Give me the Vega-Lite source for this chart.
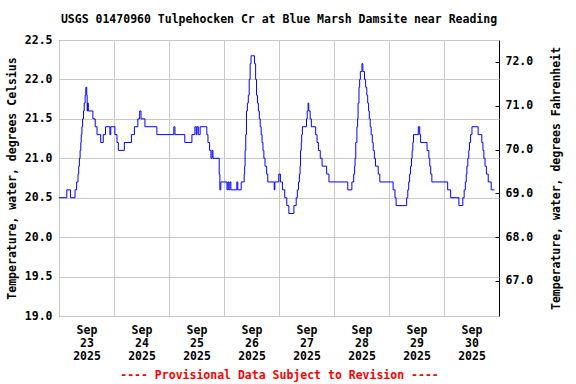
{
  "$schema": "https://vega.github.io/schema/vega-lite/v6.json",
  "width": 440,
  "height": 276,
  "autosize": "none",
  "padding": {"left": 59, "top": 40, "right": 77, "bottom": 68},
  "background": "white",
  "title": {
    "text": "USGS 01470960 Tulpehocken Cr at Blue Marsh Damsite near Reading",
    "font": "DejaVu Sans Mono",
    "fontSize": 11.5,
    "fontWeight": "bold",
    "color": "black",
    "anchor": "middle",
    "offset": 9
  },
  "config": {
    "view": {"stroke": "black", "strokeWidth": 1},
    "axis": {
      "labelFont": "DejaVu Sans Mono",
      "labelFontSize": 11.5,
      "labelFontWeight": "bold",
      "labelColor": "black",
      "titleFont": "DejaVu Sans Mono",
      "titleFontSize": 11.5,
      "titleFontWeight": "bold",
      "titleColor": "black",
      "gridColor": "#c8c8c8",
      "gridWidth": 1,
      "domain": false
    }
  },
  "data": {
    "values": [
      {"t": "2025-09-23T00:00", "c": 20.5},
      {"t": "2025-09-23T03:24", "c": 20.6},
      {"t": "2025-09-23T05:00", "c": 20.5},
      {"t": "2025-09-23T07:00", "c": 20.6},
      {"t": "2025-09-23T07:42", "c": 20.7},
      {"t": "2025-09-23T08:18", "c": 20.8},
      {"t": "2025-09-23T08:36", "c": 20.9},
      {"t": "2025-09-23T08:54", "c": 21.0},
      {"t": "2025-09-23T09:12", "c": 21.1},
      {"t": "2025-09-23T09:30", "c": 21.2},
      {"t": "2025-09-23T09:42", "c": 21.3},
      {"t": "2025-09-23T10:00", "c": 21.4},
      {"t": "2025-09-23T10:18", "c": 21.5},
      {"t": "2025-09-23T10:42", "c": 21.6},
      {"t": "2025-09-23T11:00", "c": 21.7},
      {"t": "2025-09-23T11:24", "c": 21.8},
      {"t": "2025-09-23T11:42", "c": 21.9},
      {"t": "2025-09-23T12:06", "c": 21.8},
      {"t": "2025-09-23T12:18", "c": 21.6},
      {"t": "2025-09-23T12:30", "c": 21.7},
      {"t": "2025-09-23T12:48", "c": 21.6},
      {"t": "2025-09-23T14:48", "c": 21.5},
      {"t": "2025-09-23T15:48", "c": 21.4},
      {"t": "2025-09-23T16:36", "c": 21.3},
      {"t": "2025-09-23T18:12", "c": 21.2},
      {"t": "2025-09-23T19:18", "c": 21.3},
      {"t": "2025-09-23T20:18", "c": 21.4},
      {"t": "2025-09-23T22:12", "c": 21.3},
      {"t": "2025-09-23T22:36", "c": 21.4},
      {"t": "2025-09-24T00:24", "c": 21.3},
      {"t": "2025-09-24T01:18", "c": 21.2},
      {"t": "2025-09-24T01:54", "c": 21.1},
      {"t": "2025-09-24T04:30", "c": 21.2},
      {"t": "2025-09-24T07:36", "c": 21.3},
      {"t": "2025-09-24T08:54", "c": 21.4},
      {"t": "2025-09-24T10:24", "c": 21.5},
      {"t": "2025-09-24T11:12", "c": 21.6},
      {"t": "2025-09-24T11:48", "c": 21.5},
      {"t": "2025-09-24T13:30", "c": 21.4},
      {"t": "2025-09-24T18:42", "c": 21.3},
      {"t": "2025-09-25T02:06", "c": 21.4},
      {"t": "2025-09-25T02:36", "c": 21.3},
      {"t": "2025-09-25T06:54", "c": 21.2},
      {"t": "2025-09-25T10:00", "c": 21.3},
      {"t": "2025-09-25T11:18", "c": 21.4},
      {"t": "2025-09-25T11:54", "c": 21.3},
      {"t": "2025-09-25T12:12", "c": 21.4},
      {"t": "2025-09-25T12:48", "c": 21.3},
      {"t": "2025-09-25T13:36", "c": 21.4},
      {"t": "2025-09-25T16:30", "c": 21.3},
      {"t": "2025-09-25T17:00", "c": 21.2},
      {"t": "2025-09-25T17:42", "c": 21.1},
      {"t": "2025-09-25T18:18", "c": 21.0},
      {"t": "2025-09-25T18:48", "c": 21.1},
      {"t": "2025-09-25T19:12", "c": 21.0},
      {"t": "2025-09-25T21:54", "c": 20.8},
      {"t": "2025-09-25T22:12", "c": 20.6},
      {"t": "2025-09-25T22:36", "c": 20.7},
      {"t": "2025-09-26T01:18", "c": 20.6},
      {"t": "2025-09-26T01:42", "c": 20.7},
      {"t": "2025-09-26T02:06", "c": 20.6},
      {"t": "2025-09-26T02:36", "c": 20.7},
      {"t": "2025-09-26T03:00", "c": 20.6},
      {"t": "2025-09-26T05:36", "c": 20.7},
      {"t": "2025-09-26T06:00", "c": 20.6},
      {"t": "2025-09-26T07:30", "c": 20.7},
      {"t": "2025-09-26T08:48", "c": 20.8},
      {"t": "2025-09-26T09:00", "c": 20.9},
      {"t": "2025-09-26T09:12", "c": 21.1},
      {"t": "2025-09-26T09:30", "c": 21.3},
      {"t": "2025-09-26T09:48", "c": 21.6},
      {"t": "2025-09-26T10:12", "c": 21.7},
      {"t": "2025-09-26T10:36", "c": 21.8},
      {"t": "2025-09-26T11:00", "c": 22.0},
      {"t": "2025-09-26T11:24", "c": 22.2},
      {"t": "2025-09-26T11:48", "c": 22.3},
      {"t": "2025-09-26T13:18", "c": 22.2},
      {"t": "2025-09-26T13:48", "c": 22.0},
      {"t": "2025-09-26T14:12", "c": 21.8},
      {"t": "2025-09-26T14:36", "c": 21.7},
      {"t": "2025-09-26T15:00", "c": 21.6},
      {"t": "2025-09-26T15:24", "c": 21.5},
      {"t": "2025-09-26T15:48", "c": 21.4},
      {"t": "2025-09-26T16:12", "c": 21.3},
      {"t": "2025-09-26T16:36", "c": 21.2},
      {"t": "2025-09-26T17:00", "c": 21.1},
      {"t": "2025-09-26T17:24", "c": 21.0},
      {"t": "2025-09-26T17:54", "c": 20.9},
      {"t": "2025-09-26T18:36", "c": 20.8},
      {"t": "2025-09-26T19:06", "c": 20.7},
      {"t": "2025-09-26T21:54", "c": 20.6},
      {"t": "2025-09-26T22:12", "c": 20.7},
      {"t": "2025-09-26T23:54", "c": 20.8},
      {"t": "2025-09-27T00:36", "c": 20.7},
      {"t": "2025-09-27T01:30", "c": 20.6},
      {"t": "2025-09-27T02:30", "c": 20.5},
      {"t": "2025-09-27T03:24", "c": 20.4},
      {"t": "2025-09-27T04:18", "c": 20.3},
      {"t": "2025-09-27T06:30", "c": 20.4},
      {"t": "2025-09-27T07:30", "c": 20.5},
      {"t": "2025-09-27T08:00", "c": 20.6},
      {"t": "2025-09-27T08:30", "c": 20.7},
      {"t": "2025-09-27T08:54", "c": 20.8},
      {"t": "2025-09-27T09:12", "c": 20.9},
      {"t": "2025-09-27T09:24", "c": 21.1},
      {"t": "2025-09-27T09:42", "c": 21.2},
      {"t": "2025-09-27T09:54", "c": 21.3},
      {"t": "2025-09-27T10:12", "c": 21.4},
      {"t": "2025-09-27T12:00", "c": 21.5},
      {"t": "2025-09-27T12:18", "c": 21.6},
      {"t": "2025-09-27T12:42", "c": 21.7},
      {"t": "2025-09-27T13:00", "c": 21.6},
      {"t": "2025-09-27T13:36", "c": 21.5},
      {"t": "2025-09-27T14:06", "c": 21.4},
      {"t": "2025-09-27T16:00", "c": 21.3},
      {"t": "2025-09-27T16:36", "c": 21.2},
      {"t": "2025-09-27T17:12", "c": 21.1},
      {"t": "2025-09-27T18:00", "c": 21.0},
      {"t": "2025-09-27T18:48", "c": 20.9},
      {"t": "2025-09-27T20:48", "c": 20.8},
      {"t": "2025-09-27T21:48", "c": 20.7},
      {"t": "2025-09-28T06:00", "c": 20.6},
      {"t": "2025-09-28T07:48", "c": 20.7},
      {"t": "2025-09-28T08:36", "c": 20.8},
      {"t": "2025-09-28T09:00", "c": 20.9},
      {"t": "2025-09-28T09:12", "c": 21.0},
      {"t": "2025-09-28T09:30", "c": 21.2},
      {"t": "2025-09-28T10:00", "c": 21.4},
      {"t": "2025-09-28T10:18", "c": 21.5},
      {"t": "2025-09-28T10:30", "c": 21.7},
      {"t": "2025-09-28T10:54", "c": 21.9},
      {"t": "2025-09-28T11:12", "c": 22.0},
      {"t": "2025-09-28T11:30", "c": 22.1},
      {"t": "2025-09-28T12:12", "c": 22.2},
      {"t": "2025-09-28T12:36", "c": 22.1},
      {"t": "2025-09-28T13:18", "c": 22.0},
      {"t": "2025-09-28T13:48", "c": 21.9},
      {"t": "2025-09-28T14:18", "c": 21.8},
      {"t": "2025-09-28T14:42", "c": 21.7},
      {"t": "2025-09-28T15:06", "c": 21.6},
      {"t": "2025-09-28T15:24", "c": 21.5},
      {"t": "2025-09-28T15:48", "c": 21.4},
      {"t": "2025-09-28T16:12", "c": 21.3},
      {"t": "2025-09-28T16:42", "c": 21.2},
      {"t": "2025-09-28T17:06", "c": 21.1},
      {"t": "2025-09-28T17:36", "c": 21.0},
      {"t": "2025-09-28T18:06", "c": 20.9},
      {"t": "2025-09-28T19:18", "c": 20.8},
      {"t": "2025-09-28T20:00", "c": 20.7},
      {"t": "2025-09-29T01:48", "c": 20.6},
      {"t": "2025-09-29T02:36", "c": 20.5},
      {"t": "2025-09-29T03:06", "c": 20.4},
      {"t": "2025-09-29T07:42", "c": 20.5},
      {"t": "2025-09-29T08:12", "c": 20.6},
      {"t": "2025-09-29T08:36", "c": 20.7},
      {"t": "2025-09-29T09:00", "c": 20.8},
      {"t": "2025-09-29T09:24", "c": 20.9},
      {"t": "2025-09-29T09:48", "c": 21.0},
      {"t": "2025-09-29T10:06", "c": 21.1},
      {"t": "2025-09-29T10:24", "c": 21.2},
      {"t": "2025-09-29T10:42", "c": 21.3},
      {"t": "2025-09-29T12:48", "c": 21.4},
      {"t": "2025-09-29T13:24", "c": 21.3},
      {"t": "2025-09-29T13:48", "c": 21.2},
      {"t": "2025-09-29T16:36", "c": 21.1},
      {"t": "2025-09-29T17:24", "c": 21.0},
      {"t": "2025-09-29T17:48", "c": 20.9},
      {"t": "2025-09-29T18:12", "c": 20.8},
      {"t": "2025-09-29T18:42", "c": 20.7},
      {"t": "2025-09-30T01:36", "c": 20.6},
      {"t": "2025-09-30T02:54", "c": 20.5},
      {"t": "2025-09-30T06:30", "c": 20.4},
      {"t": "2025-09-30T08:12", "c": 20.5},
      {"t": "2025-09-30T08:48", "c": 20.6},
      {"t": "2025-09-30T09:18", "c": 20.7},
      {"t": "2025-09-30T09:42", "c": 20.8},
      {"t": "2025-09-30T10:00", "c": 20.9},
      {"t": "2025-09-30T10:24", "c": 21.0},
      {"t": "2025-09-30T10:48", "c": 21.1},
      {"t": "2025-09-30T11:06", "c": 21.2},
      {"t": "2025-09-30T11:36", "c": 21.3},
      {"t": "2025-09-30T12:12", "c": 21.4},
      {"t": "2025-09-30T14:54", "c": 21.3},
      {"t": "2025-09-30T16:30", "c": 21.2},
      {"t": "2025-09-30T17:00", "c": 21.1},
      {"t": "2025-09-30T17:24", "c": 21.0},
      {"t": "2025-09-30T17:54", "c": 20.9},
      {"t": "2025-09-30T18:30", "c": 20.8},
      {"t": "2025-09-30T19:18", "c": 20.7},
      {"t": "2025-09-30T20:36", "c": 20.6},
      {"t": "2025-09-30T22:00", "c": 20.6}
    ]
  },
  "layer": [
    {
      "mark": {"type": "line", "interpolate": "step-after", "color": "#0000ff", "strokeWidth": 1},
      "encoding": {
        "x": {
          "field": "t",
          "type": "temporal",
          "scale": {
            "domain": [
              {"year": 2025, "month": 9, "date": 23, "hours": 0},
              {"year": 2025, "month": 10, "date": 1, "hours": 0}
            ]
          },
          "axis": {
            "values": [
              {"year": 2025, "month": 9, "date": 23},
              {"year": 2025, "month": 9, "date": 24},
              {"year": 2025, "month": 9, "date": 25},
              {"year": 2025, "month": 9, "date": 26},
              {"year": 2025, "month": 9, "date": 27},
              {"year": 2025, "month": 9, "date": 28},
              {"year": 2025, "month": 9, "date": 29},
              {"year": 2025, "month": 9, "date": 30}
            ],
            "labelExpr": "[timeFormat(datum.value, '%b'), timeFormat(datum.value, '%d'), timeFormat(datum.value, '%Y')]",
            "labelOffset": 27.5,
            "labelLineHeight": 13,
            "labelPadding": 8,
            "labelFlush": false,
            "labelBound": false,
            "labelOverlap": false,
            "ticks": false,
            "grid": true,
            "title": "---- Provisional Data Subject to Revision ----",
            "titleColor": "#ff0000",
            "titlePadding": 8
          }
        },
        "y": {
          "field": "c",
          "type": "quantitative",
          "scale": {"domain": [19, 22.5], "nice": false, "zero": false},
          "axis": {
            "values": [19, 19.5, 20, 20.5, 21, 21.5, 22, 22.5],
            "format": ".1f",
            "ticks": false,
            "grid": true,
            "labelPadding": 7,
            "title": "Temperature, water, degrees Celsius",
            "titleX": -47,
            "titleY": 138,
            "titleAngle": -90,
            "titleAlign": "center",
            "titleBaseline": "middle"
          }
        }
      }
    },
    {
      "mark": {"type": "rule", "strokeOpacity": 0},
      "encoding": {
        "y": {
          "datum": 70,
          "type": "quantitative",
          "scale": {"domain": [66.2, 72.5], "nice": false, "zero": false},
          "axis": {
            "orient": "right",
            "values": [67, 68, 69, 70, 71, 72],
            "format": ".1f",
            "grid": false,
            "ticks": true,
            "tickSize": -4,
            "tickColor": "black",
            "labelPadding": 10,
            "title": "Temperature, water, degrees Fahrenheit",
            "titleX": 57,
            "titleY": 138,
            "titleAngle": -90,
            "titleAlign": "center",
            "titleBaseline": "middle"
          }
        }
      }
    }
  ],
  "resolve": {"scale": {"y": "independent"}}
}
